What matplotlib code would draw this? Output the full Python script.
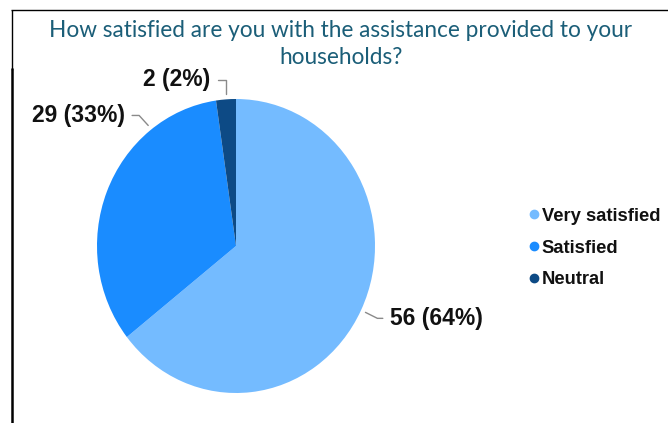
import numpy as np
import matplotlib
matplotlib.use("Agg")
import matplotlib.pyplot as plt
from matplotlib.lines import Line2D

categories = ["Very satisfied", "Satisfied", "Neutral"]
counts = [56, 29, 2]
colors = ["#74BBFF", "#1A8CFF", "#0D4A85"]
title = "How satisfied are you with the assistance provided to your\nhouseholds?"

W, H = 668, 423
fig = plt.figure(figsize=(W / 100, H / 100), dpi=100)

# pie axes (slightly taller than wide, as drawn)
pie_left, pie_right, pie_top, pie_bottom = 97, 375, 99, 393
ax = fig.add_axes([pie_left / W, 1 - pie_bottom / H,
                   (pie_right - pie_left) / W, (pie_bottom - pie_top) / H])
wedges, _ = ax.pie(counts, colors=colors, startangle=90, counterclock=False,
                   radius=1.0, center=(0, 0),
                   wedgeprops=dict(linewidth=0, antialiased=True))
ax.set_aspect("auto")
ax.set_xlim(-1, 1)
ax.set_ylim(-1, 1)
ax.axis("off")

total = sum(counts)
label_font = dict(family=["Liberation Sans", "DejaVu Sans"], weight="bold",
                  size=16.5, color="#111111")

# anchor angle on the rim, text offset (points), text side, leader bend angle
mids = [(w.theta1 + w.theta2) / 2 for w in wedges]
anchor_angles = [mids[0], 127.6, mids[2]]
offsets = [(17.5, -4.3), (-16.6, 7.2), (-10.8, 10.4)]
sides = ["left", "right", "right"]
bends = [-26.6, -47.7, 90]

for i, (n, ang) in enumerate(zip(counts, anchor_angles)):
    pct = round(100 * n / total)
    r = 1.035
    xy = (r * np.cos(np.radians(ang)), r * np.sin(np.radians(ang)))
    ax.annotate(f"{n} ({pct}%)", xy=xy, xytext=offsets[i],
                textcoords="offset points", ha=sides[i], va="center",
                annotation_clip=False, **label_font,
                arrowprops=dict(arrowstyle="-", color="#8a8a8a", lw=1.0,
                                shrinkA=3, shrinkB=0,
                                relpos=(0, 0.5) if sides[i] == "left" else (1, 0.5),
                                connectionstyle=f"angle,angleA=0,angleB={bends[i]},rad=0"))

# legend
handles = [Line2D([0], [0], marker="o", linestyle="none", markersize=6,
                  markerfacecolor=c, markeredgecolor=c) for c in colors]
leg = fig.legend(handles, categories, loc="center left",
                 bbox_to_anchor=(529 / W, 1 - 248 / H), frameon=False,
                 prop=dict(family=["Liberation Sans", "DejaVu Sans"],
                           weight="bold", size=13.2),
                 handlelength=0.5, handletextpad=0.2, labelspacing=0.8,
                 borderpad=0, borderaxespad=0)
for t in leg.get_texts():
    t.set_color("#111111")

# title
fig.text(341 / W, 1 - 44 / H, title, ha="center", va="center",
         family=["Lato", "DejaVu Sans"], size=16.3, color="#1B5E78",
         linespacing=1.4)

# frame lines
def px_line(x0, y0, x1, y1, lw):
    fig.add_artist(Line2D([x0 / W, x1 / W], [1 - y0 / H, 1 - y1 / H],
                          transform=fig.transFigure, color="black", lw=lw,
                          solid_capstyle="butt"))

px_line(11, 10.5, W, 10.5, 1.0)
px_line(11.5, 10, 11.5, 70, 1.0)
px_line(12, 68, 12, H, 1.8)

fig.savefig("out.png", dpi=100)
